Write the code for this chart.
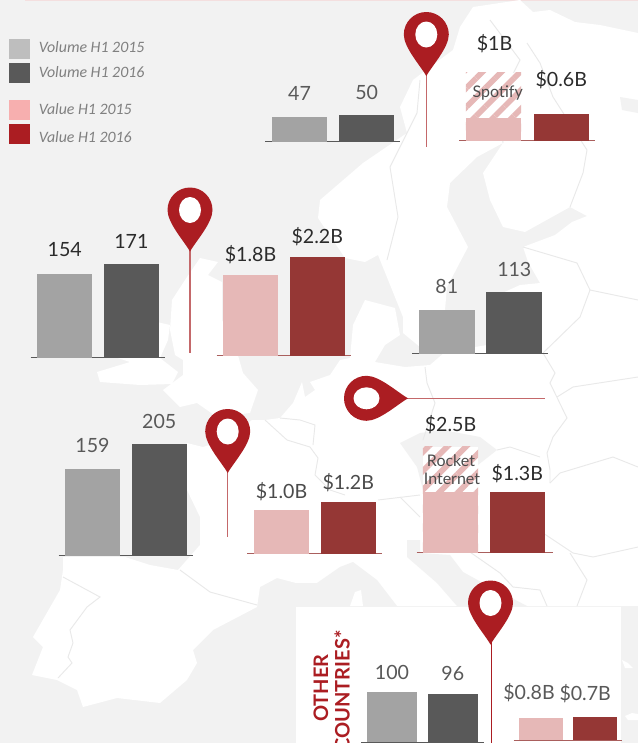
\documentclass[border=0pt]{standalone}
\usepackage{fontspec}
\setmainfont{Lato}
\newfontfamily\legfont{Carlito}
\usepackage{pgfplots}
\pgfplotsset{compat=1.18}
\usetikzlibrary{patterns.meta}

\definecolor{sea}{HTML}{F2F2F2}
\definecolor{border}{HTML}{E9E9E9}
\definecolor{volA}{HTML}{A3A3A3}
\definecolor{volB}{HTML}{595959}
\definecolor{valA}{HTML}{E6B8B7}
\definecolor{valB}{HTML}{953735}
\definecolor{pinred}{HTML}{AB1D22}
\definecolor{pinline}{HTML}{C4686A}
\definecolor{dark}{HTML}{2B2B2B}
\definecolor{mid}{HTML}{595959}

% one small two-bar chart: left, right, baseline, centre 0, centre 1, bar width (all px), px per unit, baseline colour
\newenvironment{pairaxis}[8]{%
  \pgfmathsetmacro\ux{(#5-#4)*0.75}%
  \pgfmathsetmacro\uw{#6*0.75}%
  \pgfmathsetmacro\uy{#7*0.75}%
  \pgfmathsetmacro\xa{(#1-#4)/(#5-#4)}%
  \pgfmathsetmacro\xb{(#2-#4)/(#5-#4)}%
  \pgfmathsetmacro\ax{#1*0.75}%
  \pgfmathsetmacro\ay{-#3*0.75}%
  \axis[at={(\ax pt,\ay pt)}, anchor=south west, x=\ux pt, y=\uy pt,
    xmin=\xa, xmax=\xb, ymin=0,
    ybar, bar shift=0pt, bar width=\uw pt, clip=false,
    axis x line=bottom, axis y line=none, xtick=\empty,
    x axis line style={-, draw=#8, line width=1.1pt}]%
}{\endaxis}

\pgfplotsset{
  lab/.style n args={3}{nodes near coords, point meta=explicit symbolic,
    every node near coord/.append style={anchor=center, xshift=#1*0.75pt, yshift=#2*0.75pt,
      text=#3, font=\fontsize{14.7}{16}\selectfont, inner sep=0pt}},
  hatched/.style={fill=white, draw=none,
    postaction={pattern={Lines[angle=45,distance=10pt,line width=4.2pt]}, pattern color=valA}},
}

% map pin pointing down, head centre at (0,0), tip at (0,41.5)
\newcommand{\mappin}[3]{%
  \begin{scope}[shift={(#1,#2)}, rotate=#3]
    \fill[pinred] (0,41.5) .. controls (-6,31) and (-22.5,13) .. (-22.5,0)
      arc[start angle=180, end angle=360, radius=22.5]
      .. controls (22.5,13) and (6,31) .. cycle;
    \fill[white] (0,0) ellipse[x radius=11, y radius=13];
  \end{scope}}

\begin{document}
\begin{tikzpicture}[x=0.75pt, y=-0.75pt]
\path[use as bounding box] (0,0) rectangle (638,743);
\fill[sea] (0,0) rectangle (638,743);
\draw[draw=valA!45, line width=0.8pt] (25,0.4) -- (638,0.4);

% land
\fill[white] (473,7) -- (520,0) -- (533,12) -- (550,10) -- (575,22) -- (600,25) -- (638,33)
  -- (638,606) -- (296,606) -- (296,583) -- (277,578) -- (260,587) -- (257,607) -- (213,630)
  -- (193,650) -- (197,663) -- (187,680) -- (160,703) -- (117,698) -- (83,707) -- (77,690)
  -- (57,680) -- (32,675) -- (43,647) -- (33,637) -- (60,590) -- (63,570) -- (63,557)
  -- (125,557) -- (150,565) -- (178,570) -- (200,545) -- (200,517) -- (187,490) -- (187,443)
  -- (203,447) -- (225,440) -- (252,420) -- (265,420) -- (280,418) -- (293,403) -- (302,382)
  -- (305,397) -- (315,390) -- (310,382) -- (330,375) -- (340,360) -- (350,358) -- (353,325)
  -- (365,300) -- (395,308) -- (400,335) -- (385,345) -- (375,362) -- (405,367) -- (430,365)
  -- (445,352) -- (487,345) -- (487,300) -- (520,285) -- (540,283) -- (528,262) -- (523,247)
  -- (555,235) -- (572,222) -- (587,216) -- (570,207) -- (525,232) -- (503,227) -- (490,200)
  -- (483,173) -- (503,143) -- (477,157) -- (450,183) -- (447,207) -- (468,247) -- (447,287)
  -- (443,333) -- (420,347) -- (403,333) -- (403,317) -- (378,255) -- (365,262) -- (345,258)
  -- (318,218) -- (320,200) -- (363,163) -- (407,133) -- (400,107) -- (413,80) -- (430,67)
  -- (453,50) -- (460,27) -- cycle;
% Britain and Ireland
\fill[white] (200,258) -- (218,262) -- (208,275) -- (222,282) -- (222,320) -- (235,345)
  -- (243,373) -- (258,390) -- (250,413) -- (217,417) -- (197,403) -- (180,407) -- (163,390)
  -- (183,375) -- (183,360) -- (175,355) -- (170,330) -- (172,300) -- (185,280) -- cycle;
\fill[white] (157,322) -- (170,325) -- (168,340) -- (160,358) -- (178,372) -- (172,384)
  -- (140,385) -- (100,382) -- (97,372) -- (130,362) -- (115,357) -- (150,345) -- cycle;
% Czechia, Adriatic, Ligurian sea with Corsica, White Sea, east Mediterranean
\fill[sea] (400,443) -- (420,433) -- (443,430) -- (480,437) -- (497,450) -- (478,465)
  -- (440,490) -- (423,490) -- (417,467) -- cycle;
\fill[sea] (407,540) -- (407,557) -- (437,583) -- (457,606) -- (527,606) -- (483,583)
  -- (463,572) -- (450,555) -- (420,553) -- (420,540) -- cycle;
\fill[sea] (296,606) -- (296,583) -- (317,583) -- (340,567) -- (353,562) -- (377,580) -- (397,606) -- cycle;
\fill[white] (350,606) -- (355,592) -- (361,590) -- (363,606) -- cycle;
\fill[sea] (620,97) -- (638,100) -- (638,113) -- (622,110) -- cycle;
\fill[sea] (621,606) rectangle (638,743);
\fill[white] (622,660) -- (628,663) -- (633,668) -- (625,668) -- cycle;
\fill[white] (625,716) -- (632,713) -- (638,714) -- (638,720) -- (628,720) -- cycle;

% borders
\begin{scope}[draw=border, line width=0.7pt]
\draw (63,577) -- (100,597) -- (87,607) -- (70,630) -- (73,643) -- (68,657) -- (72,663) -- (58,678);
\draw (180,570) -- (210,592) -- (257,605);
\draw (420,80) -- (417,113) -- (390,167) -- (398,217) -- (387,260);
\draw (527,43) -- (540,63) -- (553,97) -- (587,150) -- (583,173) -- (570,207);
\draw (490,20) -- (520,60) -- (500,100) -- (503,143);
\draw (523,247) -- (577,263) -- (590,290) -- (580,317) -- (543,353);
\draw (590,290) -- (638,300);
\draw (265,420) -- (287,440) -- (310,447) -- (318,458) -- (315,475) -- (330,490);
\draw (280,418) -- (300,420) -- (315,425) -- (313,445);
\draw (425,367) -- (427,383) -- (435,403) -- (423,440);
\draw (543,353) -- (555,373) -- (550,383) -- (567,418) -- (553,437) -- (547,453) -- (550,470) -- (550,483);
\draw (557,397) -- (573,387) -- (638,377);
\draw (550,483) -- (560,473) -- (613,457) -- (638,467);
\draw (497,450) -- (510,447) -- (540,457);
\draw (400,497) -- (420,517);
\draw (543,533) -- (573,553) -- (593,557) -- (638,547);
\draw (570,553) -- (587,580) -- (577,606);
\draw (467,550) -- (500,573) -- (513,587) -- (540,590) -- (547,606);
\draw (378,500) -- (420,495);
\draw (345,495) -- (330,490);
\end{scope}

% legend
\fill[volA!70] (9,39) rectangle (30,59);
\fill[volB] (9,63) rectangle (30,83);
\fill[valA!60!red!55] (9,100) rectangle (30,120);
\fill[pinred] (9,124) rectangle (30,144);
\begin{scope}[every node/.style={anchor=west, inner sep=0pt, text=black!50,
    font=\legfont\itshape\fontsize{11.9}{13}\selectfont}]
\node at (38.5,47) {Volume H1 2015};
\node at (38.5,72) {Volume H1 2016};
\node at (38.5,109) {Value H1 2015};
\node at (38.5,137) {Value H1 2016};
\end{scope}

% pin stems and heads
\draw[pinline, line width=1.1pt] (426.3,70) -- (426.3,147);
\mappin{426.3}{34.5}{0}
\draw[pinline, line width=1.1pt] (190,245) -- (190,353);
\mappin{190}{210}{0}
\draw[pinline, line width=1.1pt] (227.7,470) -- (227.7,536.7);
\mappin{227.7}{431.5}{0}
\draw[pinline, line width=1.1pt] (400,398.3) -- (545,398.3);
\mappin{366.5}{398.3}{90}

% Sweden
\begin{pairaxis}{265.3}{400}{141.5}{299.6}{366.7}{55.3}{0.53}{volB}
  \addplot[fill=volA, draw=none, lab={0}{23}{mid}] coordinates {(0,47)[47]};
  \addplot[fill=volB, draw=none, lab={0}{23}{mid}] coordinates {(1,50)[50]};
\end{pairaxis}
\begin{pairaxis}{459.3}{595.3}{140.5}{493.5}{561.3}{55.3}{45}{valB!80}
  \addplot[hatched, lab={1}{29}{dark}] coordinates {(0,1.51)[\$1B]};
  \addplot[fill=valA, draw=none] coordinates {(0,0.51)};
  \addplot[fill=valB, draw=none, lab={0}{35}{dark}] coordinates {(1,0.58)[\$0.6B]};
\end{pairaxis}
\node[text=mid!85!black, font=\fontsize{12}{14}\selectfont, inner sep=0pt] at (497.7,93.3) {Spotify};

% UK
\begin{pairaxis}{30.7}{165}{357.5}{64.7}{131.4}{55.3}{0.545}{volB}
  \addplot[fill=volA, draw=none, lab={0}{24}{dark}] coordinates {(0,154)[154]};
  \addplot[fill=volB, draw=none, lab={0}{23}{dark}] coordinates {(1,171)[171]};
\end{pairaxis}
\begin{pairaxis}{216.7}{351}{355.5}{250.5}{317.3}{55.3}{45}{valB!80}
  \addplot[fill=valA, draw=none, lab={0}{20}{dark}] coordinates {(0,1.8)[\$1.8B]};
  \addplot[fill=valB, draw=none, lab={0}{20}{dark}] coordinates {(1,2.2)[\$2.2B]};
\end{pairaxis}

% Nordics
\begin{pairaxis}{412.3}{548}{353.7}{446.8}{514.3}{56}{0.545}{volB}
  \addplot[fill=volA, draw=none, lab={0}{23}{mid}] coordinates {(0,81)[81]};
  \addplot[fill=volB, draw=none, lab={0}{23}{mid}] coordinates {(1,113)[113]};
\end{pairaxis}

% France
\begin{pairaxis}{58.7}{193}{555.7}{92.5}{159.3}{55.3}{0.545}{volB}
  \addplot[fill=volA, draw=none, lab={0}{24}{mid}] coordinates {(0,159)[159]};
  \addplot[fill=volB, draw=none, lab={0}{23}{mid}] coordinates {(1,205)[205]};
\end{pairaxis}
\begin{pairaxis}{247.3}{382.3}{553.7}{281.5}{348.3}{55.3}{45}{valB!80}
  \addplot[fill=valA, draw=none, lab={0}{18}{dark!85}] coordinates {(0,0.98)[\$1.0B]};
  \addplot[fill=valB, draw=none, lab={0}{19}{dark!85}] coordinates {(1,1.16)[\$1.2B]};
\end{pairaxis}

% Germany
\begin{pairaxis}{416.7}{552.7}{552.7}{450.5}{517.3}{55.3}{45}{valB!80}
  \addplot[hatched, lab={0}{22}{dark}] coordinates {(0,2.36)[\$2.5B]};
  \addplot[fill=valA, draw=none] coordinates {(0,1.36)};
  \addplot[fill=valB, draw=none, lab={0}{18}{dark}] coordinates {(1,1.36)[\$1.3B]};
\end{pairaxis}
\node[text=mid!85!black, font=\fontsize{12}{14}\selectfont, inner sep=0pt] at (451,460.7) {Rocket};
\node[text=mid!85!black, font=\fontsize{12}{14}\selectfont, inner sep=0pt] at (452,479) {Internet};

% other countries
\fill[white] (296,606.7) rectangle (621,743);
\node[rotate=90, anchor=south, text=pinred, inner sep=0pt,
  font=\bfseries\fontsize{15}{17}\selectfont] at (328.5,688) {OTHER};
\node[rotate=90, anchor=south, text=pinred, inner sep=0pt,
  font=\bfseries\fontsize{15}{17}\selectfont] at (350,691) {COUNTRIES*};
\draw[pinred, line width=1.1pt] (491.4,640) -- (491.4,743);
\mappin{490.5}{603}{0}
\begin{pairaxis}{361}{484}{742.3}{392}{452.8}{50}{0.5}{volB}
  \addplot[fill=volA, draw=none, lab={0}{20}{mid}] coordinates {(0,100)[100]};
  \addplot[fill=volB, draw=none, lab={0}{21}{mid}] coordinates {(1,96)[96]};
\end{pairaxis}
\begin{pairaxis}{513.7}{622}{740.3}{541}{595.2}{44}{45}{valB!80}
  \addplot[fill=valA, draw=none, lab={-12}{26}{mid}] coordinates {(0,0.49)[\$0.8B]};
  \addplot[fill=valB, draw=none, lab={-10}{24}{mid}] coordinates {(1,0.51)[\$0.7B]};
\end{pairaxis}
\end{tikzpicture}
\end{document}
